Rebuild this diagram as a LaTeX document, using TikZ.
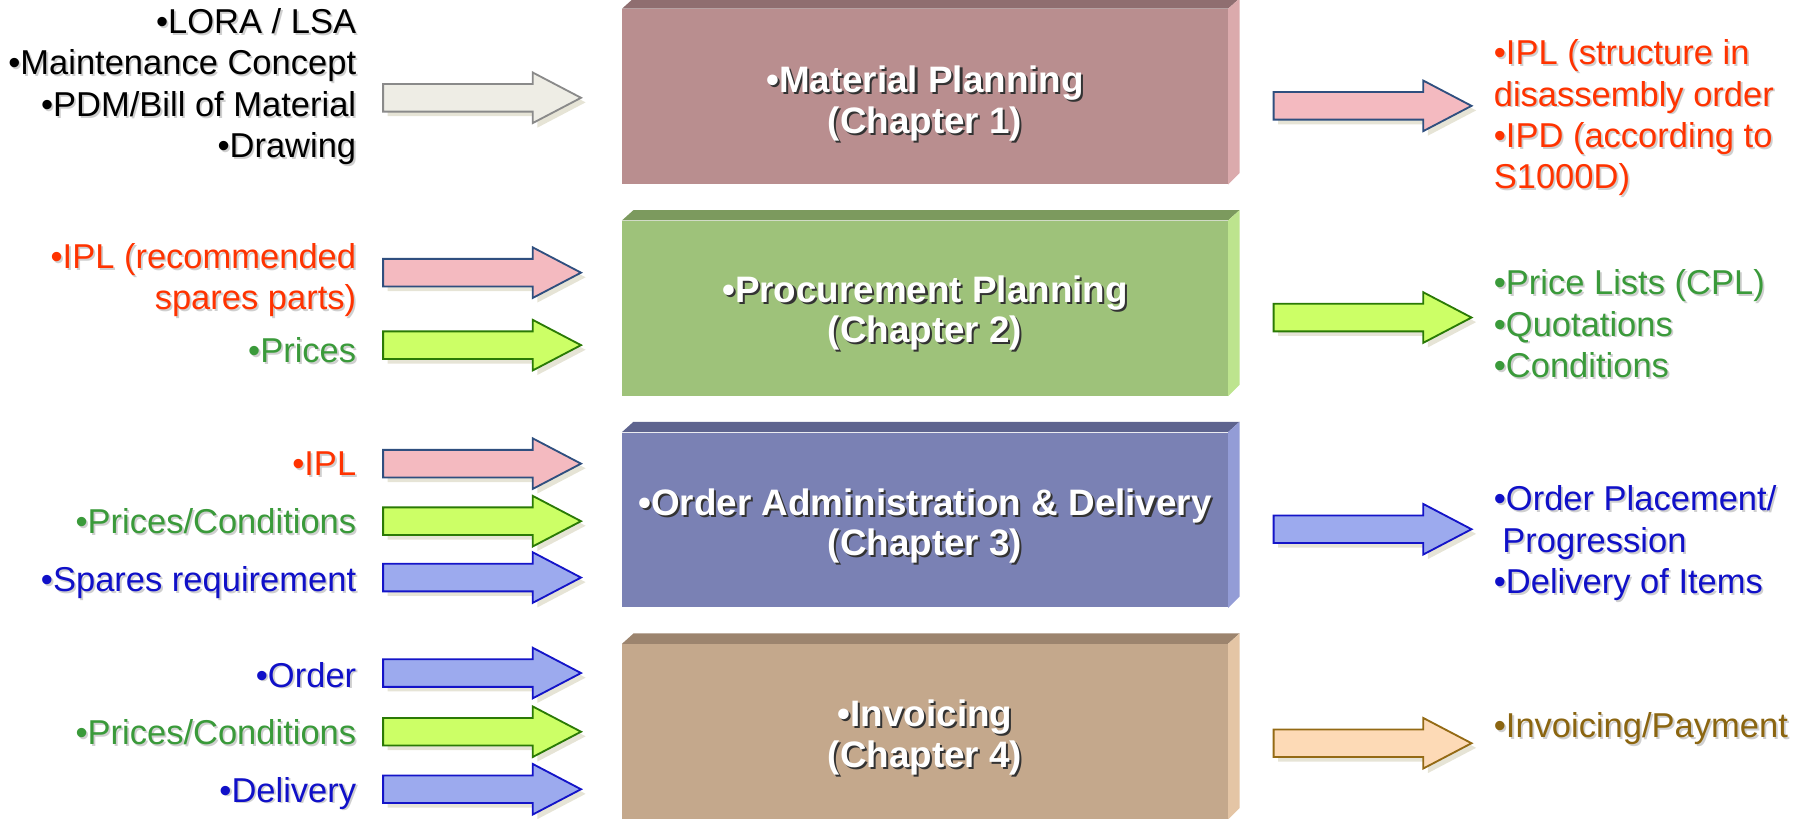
\documentclass[tikz,border=0pt]{standalone}
\usepackage{fontspec}
\setmainfont{Liberation Sans}
\usepackage{tikz}
\usetikzlibrary{calc}
\usepackage{xcolor}

\definecolor{matface}{HTML}{B98E8F}
\definecolor{mattop}{HTML}{8F6E70}
\definecolor{matside}{HTML}{DBAAAC}
\definecolor{proface}{HTML}{9EC27A}
\definecolor{protop}{HTML}{7C9A5E}
\definecolor{proside}{HTML}{BDE48E}
\definecolor{ordface}{HTML}{7A81B4}
\definecolor{ordtop}{HTML}{5E648F}
\definecolor{ordside}{HTML}{939CD6}
\definecolor{invface}{HTML}{C4A88C}
\definecolor{invtop}{HTML}{9C846E}
\definecolor{invside}{HTML}{E4C5A5}
\definecolor{txtred}{HTML}{FF3300}
\definecolor{txtgreen}{HTML}{3A9A3A}
\definecolor{txtblue}{HTML}{1010C8}
\definecolor{txtbrown}{HTML}{8B6510}
\definecolor{shadowgray}{HTML}{CFCFCF}
\definecolor{arrshadow}{HTML}{E6E4D6}
\definecolor{grayfill}{HTML}{EEEDE5}
\definecolor{grayline}{HTML}{8A8A8A}
\definecolor{pinkfill}{HTML}{F4BAC0}
\definecolor{pinkline}{HTML}{2F4F7F}
\definecolor{greenfill}{HTML}{CCFF66}
\definecolor{greenline}{HTML}{2A7A05}
\definecolor{bluefill}{HTML}{9CAAEE}
\definecolor{blueline}{HTML}{1414C8}
\definecolor{tanfill}{HTML}{FDDAB6}
\definecolor{tanline}{HTML}{946A14}

% text with a soft shadow behind it
\newcommand{\sidelabel}[4][]{%
  \node[sidetxt,#1,text=shadowgray] at ($#3+(1.6,1.6)$) {#4};
  \node[sidetxt,#1] (#2) at #3 {#4};}
\newcommand{\chaplabel}[3]{%
  \node[chaptxt,text=black!80] at ($#2+(1.8,1.8)$) {#3};
  \node[chaptxt] (#1) at #2 {#3};}
% front face, top bevel and side bevel of a chapter box
\newcommand{\chapterbox}[5]{%
  \node[chapbox, fill=#3] (#1) at (804,#2) {};
  \fill[#4] (#1.north west) -- ++(10,-9) -- ($(#1.north east)+(10,-9)$) -- (#1.north east) -- cycle;
  \fill[#5] (#1.north east) -- ++(10,-9) -- ($(#1.south east)+(10,-10)$) -- (#1.south east) -- cycle;}

\begin{document}
\begin{tikzpicture}[x=0.5pt, y=-0.5pt,
  chapbox/.style={minimum width=263pt, minimum height=76pt, inner sep=0pt},
  chaptxt/.style={font=\fontsize{16}{17.5}\selectfont\bfseries, text=white, align=center, inner sep=0pt},
  sidetxt/.style={font=\fontsize{15}{18}\selectfont, inner sep=0pt},
  blockarrow/.pic={
    \fill[arrshadow] (4,-8) -- (134,-8) -- (134,-18) -- (176,4) -- (134,26) -- (134,16) -- (4,16) -- cycle;
    \draw[pic actions] (0,-12) -- (130,-12) -- (130,-22) -- (172,0) -- (130,22) -- (130,12) -- (0,12) -- cycle;},
  grayarrow/.style={fill=grayfill, draw=grayline, line width=0.8pt},
  pinkarrow/.style={fill=pinkfill, draw=pinkline, line width=0.8pt},
  greenarrow/.style={fill=greenfill, draw=greenline, line width=0.8pt},
  bluearrow/.style={fill=bluefill, draw=blueline, line width=0.8pt},
  tanarrow/.style={fill=tanfill, draw=tanline, line width=0.8pt}
  ]
\useasboundingbox (0,0) rectangle (1568,711);

\chapterbox{mat}{84}{matface}{mattop}{matside}      % chapter 1
\chapterbox{pro}{268}{proface}{protop}{proside}     % chapter 2
\chapterbox{ord}{452}{ordface}{ordtop}{ordside}     % chapter 3
\chapterbox{inv}{636}{invface}{invtop}{invside}     % chapter 4

\chaplabel{matlbl}{(804,90)}{•Material Planning\\(Chapter 1)}
\chaplabel{prolbl}{(804,272)}{•Procurement Planning\\(Chapter 2)}
\chaplabel{ordlbl}{(804,457)}{•Order Administration \& Delivery\\(Chapter 3)}
\chaplabel{invlbl}{(804,641)}{•Invoicing\\(Chapter 4)}

% inputs
\pic[grayarrow] (inmat) at (333,85) {blockarrow};
\pic[pinkarrow] (inproa) at (333,237) {blockarrow};
\pic[greenarrow] (inprob) at (333,300) {blockarrow};
\pic[pinkarrow] (inorda) at (333,403) {blockarrow};
\pic[greenarrow] (inordb) at (333,453) {blockarrow};
\pic[bluearrow] (inordc) at (333,502) {blockarrow};
\pic[bluearrow] (ininva) at (333,585) {blockarrow};
\pic[greenarrow] (ininvb) at (333,636) {blockarrow};
\pic[bluearrow] (ininvc) at (333,686) {blockarrow};

% outputs
\pic[pinkarrow] (outmat) at (1107,92) {blockarrow};
\pic[greenarrow] (outpro) at (1107,276) {blockarrow};
\pic[bluearrow] (outord) at (1107,460) {blockarrow};
\pic[tanarrow] (outinv) at (1107,646) {blockarrow};

\sidelabel[anchor=north east, align=right, text=black]{srcmat}{(310,7)}{•LORA / LSA\\•Maintenance Concept\\•PDM/Bill of Material\\•Drawing}
\sidelabel[anchor=north east, align=right, text=txtred]{srcproa}{(310,211)}{•IPL (recommended\\spares parts)}
\sidelabel[anchor=north east, text=txtgreen]{srcprob}{(310,293)}{•Prices}
\sidelabel[anchor=north east, text=txtred]{srcorda}{(310,392)}{•IPL}
\sidelabel[anchor=north east, text=txtgreen]{srcordb}{(310,442)}{•Prices/Conditions}
\sidelabel[anchor=north east, text=txtblue]{srcordc}{(310,492)}{•Spares requirement}
\sidelabel[anchor=north east, text=txtblue]{srcinva}{(310,575)}{•Order}
\sidelabel[anchor=north east, text=txtgreen]{srcinvb}{(310,625)}{•Prices/Conditions}
\sidelabel[anchor=north east, text=txtblue]{srcinvc}{(310,675)}{•Delivery}

\sidelabel[anchor=north west, align=left, text=txtred]{resmat}{(1298,34)}{•IPL (structure in\\disassembly order\\•IPD (according to\\S1000D)}
\sidelabel[anchor=north west, align=left, text=txtgreen]{respro}{(1298,234)}{•Price Lists (CPL)\\•Quotations\\•Conditions}
\sidelabel[anchor=north west, align=left, text=txtblue]{resord}{(1298,422)}{•Order Placement/\\\hspace*{3.7pt}Progression\\•Delivery of Items}
\sidelabel[anchor=north west, text=txtbrown]{resinv}{(1298,619)}{•Invoicing/Payment}
\end{tikzpicture}
\end{document}
